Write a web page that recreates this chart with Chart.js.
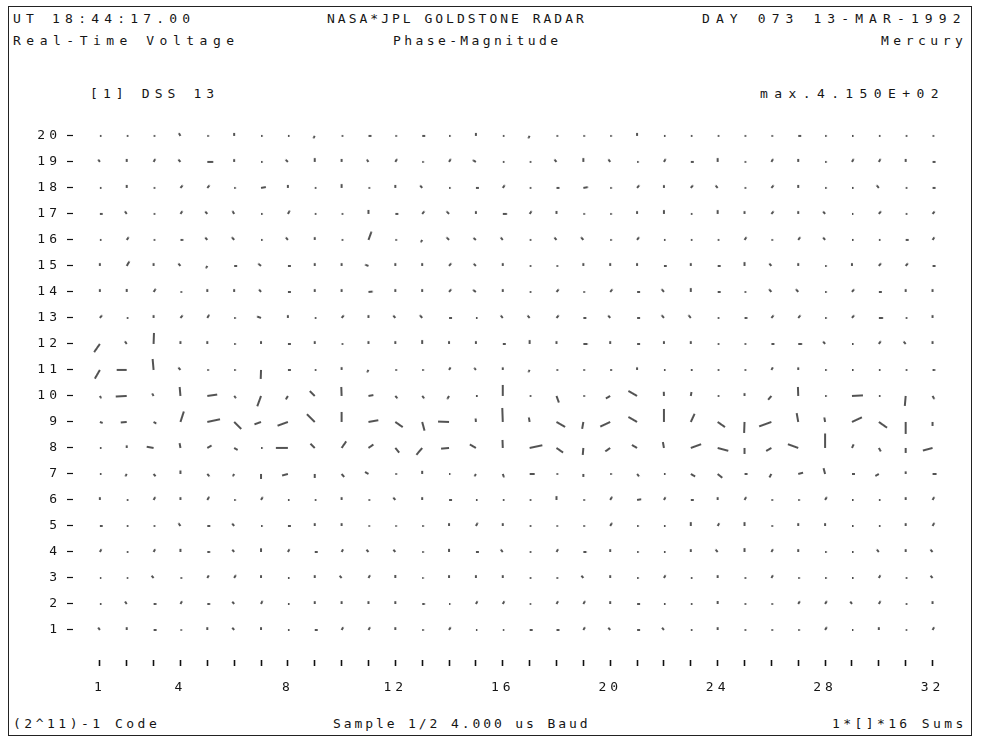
<!DOCTYPE html>
<html>
<head>
<meta charset="utf-8">
<script src="https://cdn.jsdelivr.net/npm/chart.js@4.4.1/dist/chart.umd.min.js"></script>
<style>
  html, body { margin: 0; padding: 0; background: #fff; }
  #wrap { position: relative; width: 981px; height: 745px; overflow: hidden; }
  #frame { position: absolute; left: 8px; top: 6px; width: 964px; height: 730px; border: 1px solid #222; box-sizing: border-box; }
  .t { position: absolute; font-family: "DejaVu Sans Mono", monospace; font-size: 13px; letter-spacing: 4px; color: #151515; white-space: pre; line-height: 1; }
  canvas { position: absolute; left: 0; top: 0; }
</style>
</head>
<body>
<div id="wrap">
  <div id="frame"></div>
  <div class="t" style="left:13px; top:12px; letter-spacing:5.2px;">UT 18:44:17.00</div>
  <div class="t" style="left:327px; top:12px; letter-spacing:3px;">NASA*JPL GOLDSTONE RADAR</div>
  <div class="t" style="left:702px; top:12px; letter-spacing:6.1px;">DAY 073 13-MAR-1992</div>
  <div class="t" style="left:13px; top:34px; letter-spacing:5.5px;">Real-Time Voltage</div>
  <div class="t" style="left:393px; top:34px; letter-spacing:3.4px;">Phase-Magnitude</div>
  <div class="t" style="left:881px; top:34px; letter-spacing:4.5px;">Mercury</div>
  <div class="t" style="left:90px; top:87px; letter-spacing:5.1px;">[1] DSS 13</div>
  <div class="t" style="left:760px; top:87px; letter-spacing:6.4px;">max.4.150E+02</div>
  <div class="t" style="left:13px; top:717px; letter-spacing:3.5px;">(2^11)-1 Code</div>
  <div class="t" style="left:333px; top:717px; letter-spacing:2.9px;">Sample 1/2 4.000 us Baud</div>
  <div class="t" style="left:832px; top:717px; letter-spacing:3.4px;">1*[]*16 Sums</div>
  <canvas id="c" width="981" height="745"></canvas>
</div>
<script>
// ---- data: range gates (columns) x samples (rows); magnitude (0..415) and phase (deg, CCW) ----
const columns = Array.from({length: 32}, (_, i) => i + 1);
const rows = Array.from({length: 20}, (_, i) => i + 1);
const xTickLabels = [1, 4, 8, 12, 16, 20, 24, 28, 32];
const maxMagnitude = 415;

const mag20 = [45,45,45,90,45,85,45,45,75,45,85,45,85,45,85,45,75,45,45,45,85,45,45,45,45,45,85,45,45,45,45,45];
const pha20 = [0,0,0,120,0,90,0,0,240,0,0,0,0,0,90,0,240,0,0,0,90,0,0,0,0,0,0,0,0,0,0,0];
const mag19 = [80,85,95,90,170,80,45,90,110,85,80,95,45,95,100,45,45,90,110,90,45,95,85,110,45,95,85,45,95,95,85,85];
const pha19 = [125,90,60,130,0,90,0,135,90,90,125,60,0,60,150,0,0,130,90,125,0,60,0,90,0,60,90,0,60,60,90,0];
const mag18 = [45,85,45,95,95,45,140,85,45,110,45,85,90,45,85,95,45,85,130,45,95,80,95,90,45,95,85,45,45,95,45,85];
const pha18 = [0,90,0,50,50,0,10,90,0,90,0,90,130,0,0,55,0,0,10,0,50,90,50,130,0,50,90,0,0,130,0,0];
const mag17 = [80,90,45,95,90,95,45,105,45,45,115,85,95,100,80,120,95,85,45,45,80,110,45,110,80,95,80,90,30,95,45,90];
const pha17 = [0,125,0,55,130,120,0,60,0,0,90,0,50,135,90,0,55,90,0,0,90,90,0,90,90,50,90,130,0,50,0,50];
const mag16 = [45,95,45,80,90,100,45,90,80,45,250,45,75,100,90,90,45,90,100,45,95,45,45,45,95,45,95,90,45,45,85,90];
const pha16 = [0,55,0,0,130,130,0,130,90,0,70,0,240,135,140,130,0,130,130,0,55,0,0,0,55,0,55,130,0,0,0,55];
const mag15 = [80,150,80,90,75,85,100,85,80,80,100,80,80,95,90,80,45,45,80,80,80,80,80,85,110,90,80,45,80,95,95,85];
const pha15 = [90,60,90,130,240,0,140,0,90,90,160,90,90,50,135,90,0,0,90,90,90,0,90,0,90,130,90,0,90,50,50,0];
const mag14 = [80,85,105,45,80,80,90,85,80,80,120,80,80,95,100,80,45,95,45,95,85,100,110,85,45,100,100,45,95,85,80,80];
const pha14 = [90,90,55,0,90,90,130,0,90,90,5,90,90,50,145,90,0,50,0,50,0,130,90,0,0,130,130,0,50,0,90,90];
const mag13 = [95,45,80,95,105,45,120,80,45,95,80,90,100,85,45,90,90,95,85,90,85,100,100,45,80,95,95,45,95,120,45,80];
const pha13 = [50,0,90,50,60,0,160,90,0,50,90,130,130,0,0,130,130,50,0,130,0,130,130,0,0,50,50,0,50,0,0,90];
const mag12 = [286,90,315,80,80,45,80,85,80,45,80,80,110,80,80,85,110,80,120,80,85,80,80,45,45,85,110,90,45,95,90,80];
const pha12 = [235,125,88,90,90,0,90,0,90,0,90,90,90,90,90,0,90,90,0,90,0,90,90,0,0,0,0,130,0,55,130,90];
const mag11 = [286,286,315,90,45,45,257,85,45,80,75,45,45,85,75,75,70,45,45,50,75,45,50,45,45,85,75,45,45,45,45,75];
const pha11 = [240,180,95,130,0,0,268,0,0,90,240,0,0,60,130,90,240,0,0,0,90,0,0,0,0,60,90,0,0,0,0,0];
const mag10 = [75,315,80,257,286,80,315,115,200,257,143,90,90,100,50,315,45,200,45,143,286,120,115,45,80,143,257,45,315,45,286,100];
const pha10 = [300,183,120,95,8,310,250,240,135,92,10,310,310,240,0,90,0,290,0,210,150,92,80,0,90,230,92,0,3,0,265,300];
const mag9 = [85,172,90,315,372,286,200,315,315,286,286,257,257,315,100,400,130,286,200,315,286,372,257,257,315,372,257,130,315,286,343,115];
const pha9 = [340,185,330,72,12,315,200,200,135,90,10,325,285,178,95,92,100,330,260,205,150,90,65,325,268,200,100,100,25,325,270,270];
const mag8 = [45,75,200,140,140,115,45,343,172,229,172,172,257,229,200,229,372,229,200,172,172,172,315,315,172,172,315,415,115,115,143,286];
const pha8 = [0,90,170,100,30,330,0,180,135,55,35,310,230,185,150,92,12,325,265,215,150,100,20,345,270,210,160,90,65,300,270,195];
const mag7 = [45,75,85,100,90,75,143,172,115,115,115,45,90,30,75,100,143,45,85,45,90,45,143,172,85,115,143,172,85,115,75,115];
const pha7 = [0,240,310,90,310,240,270,195,270,310,150,0,90,0,240,290,0,0,270,0,310,0,330,320,0,240,15,105,0,210,90,0];
const mag6 = [80,45,95,80,105,45,95,45,45,80,45,90,80,85,45,45,45,110,45,105,120,90,85,80,95,45,45,95,45,45,80,95];
const pha6 = [90,0,60,90,60,0,60,0,0,90,0,130,90,0,0,0,0,90,0,60,10,60,0,90,60,0,0,60,0,0,90,60];
const mag5 = [80,45,45,95,85,90,45,85,80,80,40,40,45,80,100,80,45,40,45,100,45,45,110,90,110,45,80,80,45,45,80,100];
const pha5 = [0,0,0,125,0,130,0,0,90,90,0,0,0,90,60,90,0,0,0,60,0,0,90,60,90,0,90,90,0,0,90,60];
const mag4 = [90,45,90,90,80,85,105,90,85,85,85,85,45,90,85,90,45,90,90,80,45,45,80,90,110,90,80,45,45,90,80,90];
const pha4 = [60,0,60,90,0,130,90,60,0,60,130,130,0,90,0,130,0,60,0,90,0,0,90,130,90,60,90,0,0,130,90,130];
const mag3 = [40,40,85,45,85,95,80,45,80,85,90,85,35,80,80,80,45,45,85,80,45,90,45,80,45,90,45,45,45,90,45,85];
const pha3 = [0,0,130,0,60,60,90,0,90,130,60,90,0,90,90,90,0,0,130,90,0,60,0,90,0,60,0,0,0,60,0,130];
const mag2 = [45,85,80,90,80,85,95,45,80,80,80,80,75,35,90,90,40,90,95,80,85,45,45,85,45,45,90,95,85,95,45,80];
const pha2 = [0,125,0,60,0,130,65,0,90,90,90,90,0,0,60,60,0,60,60,90,0,0,0,90,0,0,60,60,125,60,0,90];
const mag1 = [85,80,85,40,80,85,80,45,85,90,90,80,45,90,40,40,85,85,90,85,85,85,45,80,45,45,45,95,40,80,40,90];
const pha1 = [125,90,0,0,90,130,90,0,0,60,60,90,0,60,0,0,0,0,60,130,0,130,0,90,0,0,0,60,0,90,0,60];

const magRows = [mag1,mag2,mag3,mag4,mag5,mag6,mag7,mag8,mag9,mag10,mag11,mag12,mag13,mag14,mag15,mag16,mag17,mag18,mag19,mag20];
const phaRows = [pha1,pha2,pha3,pha4,pha5,pha6,pha7,pha8,pha9,pha10,pha11,pha12,pha13,pha14,pha15,pha16,pha17,pha18,pha19,pha20];

// ---- build points ----
const points = [];
rows.forEach((r, ri) => {
  columns.forEach((c, ci) => {
    points.push({x: c, y: r, m: magRows[ri][ci], p: phaRows[ri][ci]});
  });
});

// ---- vector glyph: a stroke starting at the point centre, drawn by Chart.js as an image point style ----
const PX_AT_MAX = 14.5;
const glyphCache = {};
function vectorGlyph(m) {
  const len = Math.max(1.4, m / maxMagnitude * PX_AT_MAX);
  const key = len.toFixed(1);
  if (glyphCache[key]) return glyphCache[key];
  const half = Math.ceil(len) + 3;
  const cv = document.createElement('canvas');
  cv.width = half * 2; cv.height = 6;
  const g = cv.getContext('2d');
  g.strokeStyle = '#111';
  g.lineWidth = 1.45;
  g.lineCap = 'butt';
  g.beginPath();
  g.moveTo(half, 3);
  g.lineTo(half + len, 3);
  g.stroke();
  glyphCache[key] = cv;
  return cv;
}

const monoFont = {family: '"DejaVu Sans Mono", monospace', size: 13};
const spacingPlugin = {
  id: 'spacing',
  beforeUpdate(chart) { chart.ctx.letterSpacing = '4px'; },
  beforeDraw(chart) { chart.ctx.letterSpacing = '4px'; }
};

new Chart(document.getElementById('c'), {
  type: 'scatter',
  data: {
    datasets: [{
      data: points,
      showLine: false,
      pointStyle: (ctx) => vectorGlyph(ctx.raw ? ctx.raw.m : 0),
      rotation: (ctx) => -(ctx.raw ? ctx.raw.p : 0),
      radius: 3,
      hoverRadius: 3,
      borderColor: '#111',
      backgroundColor: '#111'
    }]
  },
  options: {
    responsive: false,
    animation: false,
    events: [],
    layout: {padding: {left: 0, top: 125, right: 31, bottom: 0}},
    plugins: {legend: {display: false}, tooltip: {enabled: false}, title: {display: false}},
    scales: {
      x: {
        type: 'linear', min: 0, max: 32.65,
        afterBuildTicks: (s) => { s.ticks = columns.map(v => ({value: v})); },
        afterFit: (s) => { s.height = 85; },
        border: {display: false},
        grid: {display: true, drawOnChartArea: false, drawTicks: true, tickLength: 6, tickColor: '#111', tickWidth: 1.6},
        ticks: {
          autoSkip: false, maxRotation: 0, padding: 14, color: '#151515', font: monoFont,
          callback: (v) => xTickLabels.includes(v) ? String(v) : ''
        }
      },
      y: {
        type: 'linear', min: -0.154, max: 20.42,
        afterBuildTicks: (s) => { s.ticks = rows.map(v => ({value: v})); },
        afterFit: (s) => { s.width = 73; },
        border: {display: false},
        grid: {display: true, drawOnChartArea: false, drawTicks: true, tickLength: 6, tickColor: '#111', tickWidth: 1.2},
        ticks: {autoSkip: false, padding: 6, color: '#151515', font: monoFont, callback: (v) => String(v)}
      }
    }
  },
  plugins: [spacingPlugin]
});
</script>
</body>
</html>
